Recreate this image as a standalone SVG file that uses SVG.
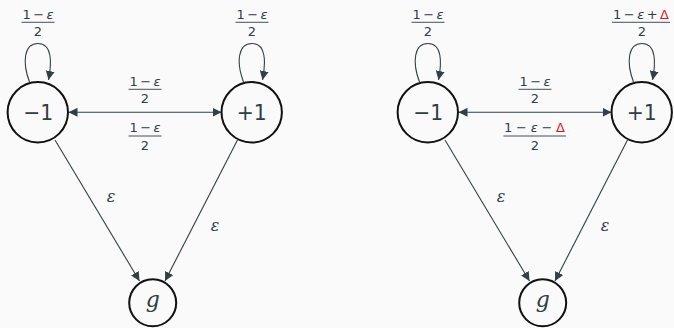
<svg xmlns="http://www.w3.org/2000/svg" width="674" height="328" viewBox="0 0 674 328">
<defs>
<marker id="ah" viewBox="0 0 10 10" refX="10" refY="5" markerWidth="9" markerHeight="9" markerUnits="userSpaceOnUse" orient="auto-start-reverse">
<path d="M0,0 L10,5 L0,10 Z" fill="#2f4049"/>
</marker>
<style>
.node{fill:#fafafa;stroke:#111;stroke-width:2}
.edge{fill:none;stroke:#2f4049;stroke-width:1.1}
.lbl{font-family:"DejaVu Sans","Noto Sans",sans-serif;fill:#2f3d45;text-anchor:middle}
.big{font-size:22px}
.fr{font-size:13px}
.eps{font-family:"DejaVu Serif","Noto Serif",serif;font-style:italic;font-size:16px;fill:#2f3d45;text-anchor:middle}
.g{font-family:"DejaVu Serif",serif;font-style:italic;font-size:22px;fill:#2f3d45;text-anchor:middle}
.bar{stroke:#2f3d45;stroke-width:0.9}
.red{fill:#e8141c}
</style>
</defs>
<rect width="674" height="328" fill="#fafafa"/>

<g id="connectors">
<path class="edge" d="M29.5 82 C22 62 24 43.5 38 43.5 C52 43.5 52 62 48.5 80" marker-end="url(#ah)"/>
<path class="edge" d="M243.5 82 C236 62 238 43.5 252 43.5 C266 43.5 266 62 262.5 80" marker-end="url(#ah)"/>
<line class="edge" x1="68.5" y1="112.3" x2="221.5" y2="112.3" marker-start="url(#ah)" marker-end="url(#ah)"/>
<line class="edge" x1="55" y1="140" x2="139.5" y2="281" marker-end="url(#ah)"/>
<line class="edge" x1="237.5" y1="140" x2="165" y2="281" marker-end="url(#ah)"/>
<path class="edge" d="M419.5 82 C412 62 414 43.5 428 43.5 C442 43.5 442 62 438.5 80" marker-end="url(#ah)"/>
<path class="edge" d="M633.5 82 C626 62 628 43.5 642 43.5 C656 43.5 656 62 652.5 80" marker-end="url(#ah)"/>
<line class="edge" x1="458.5" y1="112.3" x2="611.5" y2="112.3" marker-start="url(#ah)" marker-end="url(#ah)"/>
<line class="edge" x1="445" y1="140" x2="529.5" y2="281" marker-end="url(#ah)"/>
<line class="edge" x1="627.5" y1="140" x2="555" y2="281" marker-end="url(#ah)"/>
</g>

<g id="edge-labels">
<text class="lbl fr" x="38" y="18.5" textLength="31" lengthAdjust="spacing">1−<tspan font-style="italic">ε</tspan></text>
<line class="bar" x1="21.5" y1="22.3" x2="54.5" y2="22.3"/>
<text class="lbl fr" x="38" y="36">2</text>
<text class="lbl fr" x="252" y="18.5" textLength="31" lengthAdjust="spacing">1−<tspan font-style="italic">ε</tspan></text>
<line class="bar" x1="235.5" y1="22.3" x2="268.5" y2="22.3"/>
<text class="lbl fr" x="252" y="36">2</text>
<text class="lbl fr" x="145" y="85.5" textLength="31" lengthAdjust="spacing">1−<tspan font-style="italic">ε</tspan></text>
<line class="bar" x1="128.5" y1="89.3" x2="161.5" y2="89.3"/>
<text class="lbl fr" x="145" y="103">2</text>
<text class="lbl fr" x="145" y="132" textLength="31" lengthAdjust="spacing">1−<tspan font-style="italic">ε</tspan></text>
<line class="bar" x1="128.5" y1="136" x2="161.5" y2="136"/>
<text class="lbl fr" x="145" y="149.5">2</text>
<text class="eps" x="111" y="202">ε</text>
<text class="eps" x="215" y="231">ε</text>
<text class="lbl fr" x="428" y="18.5" textLength="31" lengthAdjust="spacing">1−<tspan font-style="italic">ε</tspan></text>
<line class="bar" x1="411.5" y1="22.3" x2="444.5" y2="22.3"/>
<text class="lbl fr" x="428" y="36">2</text>
<text class="lbl fr" x="641" y="18.5" textLength="56" lengthAdjust="spacing">1−<tspan font-style="italic">ε</tspan>+<tspan class="red">Δ</tspan></text>
<line class="bar" x1="612" y1="22.3" x2="670" y2="22.3"/>
<text class="lbl fr" x="642" y="36">2</text>
<text class="lbl fr" x="535" y="85.5" textLength="31" lengthAdjust="spacing">1−<tspan font-style="italic">ε</tspan></text>
<line class="bar" x1="518.5" y1="89.3" x2="551.5" y2="89.3"/>
<text class="lbl fr" x="535" y="103">2</text>
<text class="lbl fr" x="534.5" y="132" textLength="61" lengthAdjust="spacing">1−<tspan font-style="italic">ε</tspan>−<tspan class="red">Δ</tspan></text>
<line class="bar" x1="503.5" y1="136" x2="566" y2="136"/>
<text class="lbl fr" x="535" y="149.5">2</text>
<text class="eps" x="501" y="202">ε</text>
<text class="eps" x="605" y="231">ε</text>
</g>

<g id="L-minus1"><circle class="node" cx="37.8" cy="112.3" r="30.2"/><text class="lbl big" x="38.3" y="120.3" textLength="30" lengthAdjust="spacingAndGlyphs">−1</text></g>
<g id="L-plus1"><circle class="node" cx="251.7" cy="112.3" r="30.2"/><text class="lbl big" x="251.7" y="120.3" textLength="30" lengthAdjust="spacingAndGlyphs">+1</text></g>
<g id="L-g"><circle class="node" cx="152.7" cy="302.8" r="23.5"/><text class="g" x="152.7" y="307">g</text></g>
<g id="R-minus1"><circle class="node" cx="427.8" cy="112.3" r="30.2"/><text class="lbl big" x="428.3" y="120.3" textLength="30" lengthAdjust="spacingAndGlyphs">−1</text></g>
<g id="R-plus1"><circle class="node" cx="641.7" cy="112.3" r="30.2"/><text class="lbl big" x="641.7" y="120.3" textLength="30" lengthAdjust="spacingAndGlyphs">+1</text></g>
<g id="R-g"><circle class="node" cx="542.7" cy="302.8" r="23.5"/><text class="g" x="542.7" y="307">g</text></g>
</svg>
